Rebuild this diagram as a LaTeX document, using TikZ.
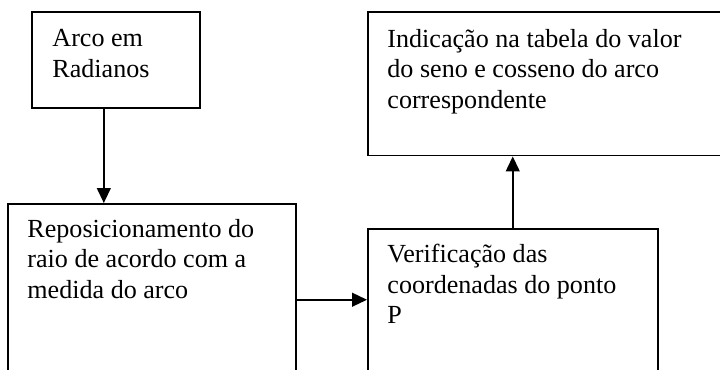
\documentclass[tikz,border=0pt]{standalone}
\usepackage{fontspec}
\setmainfont{Liberation Serif}
\usetikzlibrary{arrows.meta}

\tikzset{
  caixa/.style={draw, line width=0.7pt, anchor=north west, inner sep=0pt},
  texto/.style={anchor=north west, align=left, inner sep=0pt,
    font=\fontsize{12pt}{14pt}\selectfont},
  seta/.style={line width=0.7pt, -{Triangle[length=6.9pt,width=6.4pt]}}
}

\begin{document}
\begin{tikzpicture}[x=0.46pt,y=-0.46pt]
    \useasboundingbox (0,0) rectangle (720,369);
    \clip (0,0) rectangle (720,369);

    % caixas
    \node[caixa, minimum width=77.3pt, minimum height=44.2pt] (arco) at (31,11) {};
    \node[caixa, minimum width=180.8pt, minimum height=66.2pt] (indic) at (367,11) {};
    \node[caixa, minimum width=132.5pt, minimum height=88.3pt] (repos) at (7,203) {};
    \node[caixa, minimum width=133.4pt, minimum height=79.1pt] (verif) at (367,228) {};

    % textos
    \node[texto] (tarco) at (52,29) {Arco em\\Radianos};
    \node[texto] (tindic) at (387,29) {Indicação na tabela do valor\\do seno e cosseno do arco\\correspondente};
    \node[texto] (trepos) at (27,219) {Reposicionamento do\\raio de acordo com a\\medida do arco};
    \node[texto] (tverif) at (387,244) {Verificação das\\coordenadas do ponto\\P};

    % setas
    \draw[seta] ([xshift=-5.5pt]arco.south) -- ([xshift=-5.5pt]arco.south |- repos.north);
    \draw[seta] (repos.east) -- (repos.east -| verif.west);
    \draw[seta] (verif.north) -- (verif.north |- indic.south);
\end{tikzpicture}
\end{document}
